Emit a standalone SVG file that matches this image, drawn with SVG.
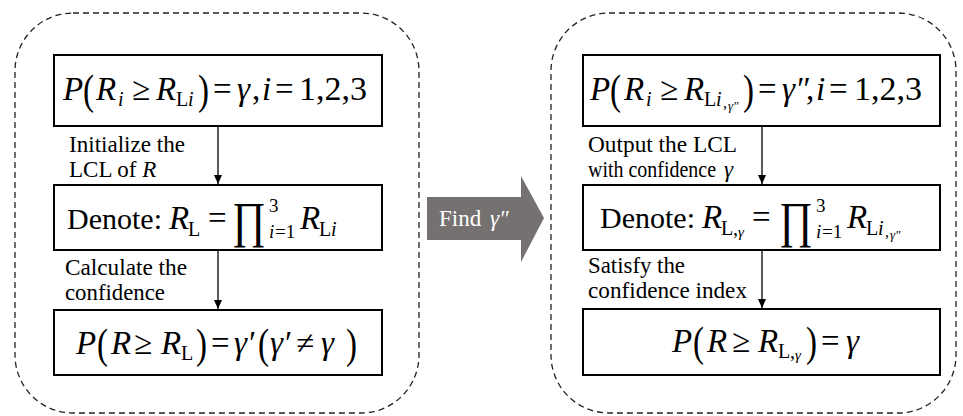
<svg xmlns="http://www.w3.org/2000/svg" width="963" height="416" viewBox="0 0 963 416">
<defs>
<style>
text{font-family:'Liberation Serif','DejaVu Serif',serif;fill:#000}
.m{font-size:33px}
.i{font-style:italic}
.s{font-size:20px}
.pr{font-size:33px}
.lb{font-size:23px}
.box{fill:#fff;stroke:#000;stroke-width:2}
.cont{fill:none;stroke:#222;stroke-width:1.3;stroke-dasharray:6 4}
.con{stroke:#000;stroke-width:1.3;fill:none}
</style>
<marker id="ah" markerUnits="userSpaceOnUse" markerWidth="10" markerHeight="10" viewBox="0 0 10 10" refX="9" refY="5" orient="auto">
<path d="M0,1 L9,5 L0,9 z" fill="#000"/>
</marker>
</defs>
<rect width="963" height="416" fill="#fff"/>

<g id="container-left"><rect class="cont" x="15" y="13" width="404" height="400" rx="58" ry="58"/></g>
<g id="container-right"><rect class="cont" x="551" y="13" width="405" height="400" rx="58" ry="58"/></g>

<g id="connectors">
<line class="con" x1="218" y1="126" x2="218" y2="184" marker-end="url(#ah)"/>
<line class="con" x1="218" y1="250" x2="218" y2="309" marker-end="url(#ah)"/>
<line class="con" x1="762" y1="126" x2="762" y2="184" marker-end="url(#ah)"/>
<line class="con" x1="762" y1="250" x2="762" y2="308" marker-end="url(#ah)"/>
</g>

<g id="find-arrow">
<polygon points="427,197 521,197 521,176 544,218 521,262 521,240 427,240" fill="#767171"/>
<text x="439" y="226" style="fill:#fff;font-size:23px">Find <tspan class="i" x="490">γ″</tspan></text>
</g>

<g id="left-box1">
<rect class="box" x="54" y="55" width="328" height="71"/>
<text class="m">
<tspan class="i" x="63" y="100">P</tspan><tspan class="i" x="96" y="100">R</tspan><tspan class="i s" x="118" y="106">i</tspan><tspan x="132" y="100">≥</tspan><tspan class="i" x="156" y="100">R</tspan><tspan class="s" x="176" y="106">L</tspan><tspan class="i s" x="188" y="106">i</tspan><tspan x="213" y="100">=</tspan><tspan class="i" x="237" y="100">γ</tspan><tspan x="252" y="100">,</tspan><tspan class="i" x="262" y="100">i</tspan><tspan x="275" y="100">=</tspan><tspan x="299" y="100" font-size="34">1,2,3</tspan>
</text>
<text class="pr" transform="translate(83,104) scale(1,1.3)">(</text>
<text class="pr" transform="translate(198,104) scale(1,1.3)">)</text>
</g>

<g id="left-box2">
<rect class="box" x="54" y="185" width="328" height="65"/>
<text class="m">
<tspan x="67" y="229" font-size="30">Denote:</tspan><tspan class="i" x="169" y="229">R</tspan><tspan class="s" x="188" y="236">L</tspan><tspan x="208" y="229">=</tspan>
</text>
<text x="232" y="237" font-size="50" textLength="34" lengthAdjust="spacingAndGlyphs">∏</text>
<text font-size="19"><tspan x="269" y="212">3</tspan><tspan class="i" x="269" y="238">i</tspan><tspan x="275" y="238">=1</tspan></text>
<text class="m"><tspan class="i" x="300" y="229">R</tspan><tspan class="s" x="319" y="236">L</tspan><tspan class="i s" x="331" y="236">i</tspan></text>
</g>

<g id="left-box3">
<rect class="box" x="54" y="310" width="328" height="65"/>
<text class="m">
<tspan class="i" x="76" y="354">P</tspan><tspan class="i" x="111" y="354">R</tspan><tspan x="134" y="354">≥</tspan><tspan class="i" x="161" y="354">R</tspan><tspan class="s" x="181" y="360">L</tspan><tspan x="211" y="354">=</tspan><tspan class="i" x="234" y="354">γ′</tspan><tspan class="i" x="270" y="354">γ′</tspan><tspan x="296" y="354">≠</tspan><tspan class="i" x="321" y="354">γ</tspan>
</text>
<text class="pr" transform="translate(97,358) scale(1,1.3)">(</text>
<text class="pr" transform="translate(196,358) scale(1,1.3)">)</text>
<text class="pr" transform="translate(258,358) scale(1,1.3)">(</text>
<text class="pr" transform="translate(346,358) scale(1,1.3)">)</text>
</g>

<g id="right-box1">
<rect class="box" x="583" y="55" width="357" height="71"/>
<text class="m">
<tspan class="i" x="590" y="100">P</tspan><tspan class="i" x="624" y="100">R</tspan><tspan class="i s" x="646" y="106">i</tspan><tspan x="660" y="100">≥</tspan><tspan class="i" x="684" y="100">R</tspan><tspan class="s" x="704" y="106">L</tspan><tspan class="i s" x="716" y="106">i</tspan><tspan font-size="16" x="723" y="108">,</tspan><tspan class="i" font-size="13" x="728" y="110">γ″</tspan><tspan x="758" y="100">=</tspan><tspan class="i" x="782" y="100">γ″</tspan><tspan x="806" y="100">,</tspan><tspan class="i" x="816" y="100">i</tspan><tspan x="829" y="100">=</tspan><tspan x="854" y="100" font-size="34">1,2,3</tspan>
</text>
<text class="pr" transform="translate(610,104) scale(1,1.3)">(</text>
<text class="pr" transform="translate(743,104) scale(1,1.3)">)</text>
</g>

<g id="right-box2">
<rect class="box" x="583" y="185" width="357" height="65"/>
<text class="m">
<tspan x="600" y="228" font-size="30">Denote:</tspan><tspan class="i" x="702" y="228">R</tspan><tspan class="s" x="721" y="235">L</tspan><tspan class="s" x="733" y="235">,</tspan><tspan class="i" font-size="15" x="738" y="237">γ</tspan><tspan x="752" y="228">=</tspan>
</text>
<text x="779" y="237" font-size="50" textLength="34" lengthAdjust="spacingAndGlyphs">∏</text>
<text font-size="19"><tspan x="816" y="212">3</tspan><tspan class="i" x="816" y="238">i</tspan><tspan x="822" y="238">=1</tspan></text>
<text class="m"><tspan class="i" x="847" y="228">R</tspan><tspan class="s" x="866" y="235">L</tspan><tspan class="i s" x="878" y="235">i</tspan><tspan font-size="16" x="885" y="237">,</tspan><tspan class="i" font-size="13" x="890" y="239">γ″</tspan></text>
</g>

<g id="right-box3">
<rect class="box" x="583" y="309" width="357" height="66"/>
<text class="m">
<tspan class="i" x="672" y="352">P</tspan><tspan class="i" x="707" y="352">R</tspan><tspan x="732" y="352">≥</tspan><tspan class="i" x="758" y="352">R</tspan><tspan class="s" x="778" y="358">L</tspan><tspan class="s" x="790" y="358">,</tspan><tspan class="i" font-size="15" x="795" y="360">γ</tspan><tspan x="821" y="352">=</tspan><tspan class="i" x="846" y="352">γ</tspan>
</text>
<text class="pr" transform="translate(693,356) scale(1,1.3)">(</text>
<text class="pr" transform="translate(806,356) scale(1,1.3)">)</text>
</g>

<g id="labels">
<text class="lb" x="69" y="152" textLength="116" lengthAdjust="spacingAndGlyphs">Initialize the</text>
<text class="lb" x="69" y="177">LCL of <tspan class="i">R</tspan></text>
<text class="lb" x="65" y="275" textLength="122" lengthAdjust="spacingAndGlyphs">Calculate the</text>
<text class="lb" x="65" y="300" textLength="100" lengthAdjust="spacingAndGlyphs">confidence</text>
<text class="lb" x="588" y="152" textLength="149" lengthAdjust="spacingAndGlyphs">Output the LCL</text>
<text class="lb" x="588" y="177" textLength="128" lengthAdjust="spacingAndGlyphs">with confidence</text>
<text class="lb i" x="724" y="177">γ</text>
<text class="lb" x="588" y="273" textLength="97" lengthAdjust="spacingAndGlyphs">Satisfy the</text>
<text class="lb" x="588" y="298" textLength="159" lengthAdjust="spacingAndGlyphs">confidence index</text>
</g>
</svg>
